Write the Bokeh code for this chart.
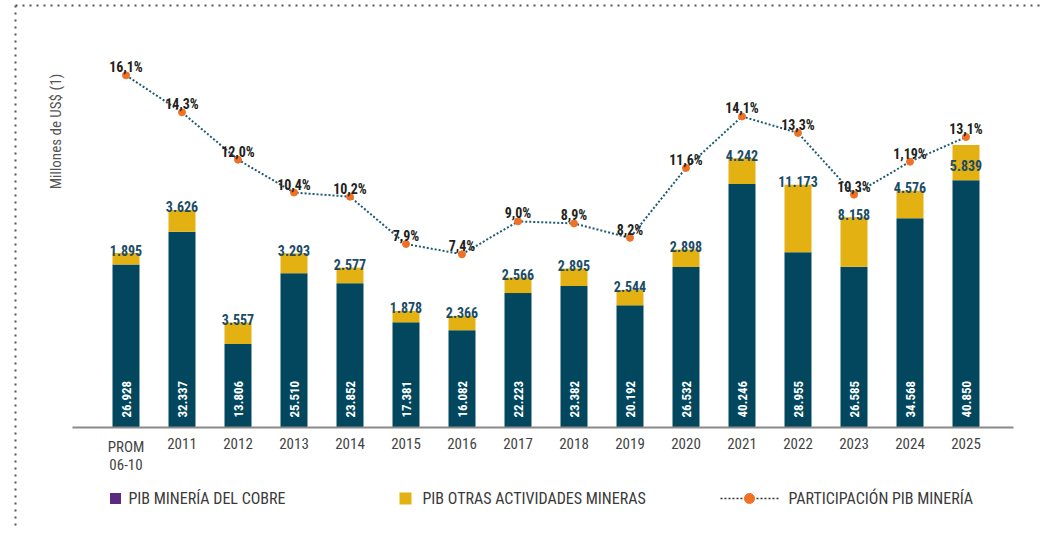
import math
from bokeh.plotting import figure
from bokeh.models import ColumnDataSource, Range1d
from bokeh.core.properties import value
from bokeh.embed import file_html
from bokeh.resources import INLINE

# ---------------- data ----------------
categories = ["PROM\n06-10", "2011", "2012", "2013", "2014", "2015", "2016", "2017",
              "2018", "2019", "2020", "2021", "2022", "2023", "2024", "2025"]
copper = [26928, 32337, 13806, 25510, 23852, 17381, 16082, 22223,
          23382, 20192, 26532, 40246, 28955, 26585, 34568, 40850]
other_mining = [1895, 3626, 3557, 3293, 2577, 1878, 2366, 2566,
                2895, 2544, 2898, 4242, 11173, 8158, 4576, 5839]
share = [16.1, 14.3, 12.0, 10.4, 10.2, 7.9, 7.4, 9.0,
         8.9, 8.2, 11.6, 14.1, 13.3, 10.3, 11.9, 13.1]
share_labels = ["16,1%", "14,3%", "12,0%", "10,4%", "10,2%", "7,9%", "7,4%", "9,0%",
                "8,9%", "8,2%", "11,6%", "14,1%", "13,3%", "10,3%", "1,19%", "13,1%"]
legend_labels = ["PIB MINERÍA DEL COBRE", "PIB OTRAS ACTIVIDADES MINERAS",
                 "PARTICIPACIÓN PIB MINERÍA"]
y_title = "Millones de US$ (1)"

# ---------------- styling ----------------
W, H = 1045, 534
C_COPPER = "#02475e"
C_OTHER = "#e4b112"
C_PURPLE = "#5b2a80"
C_LINE = "#1d5a75"
C_DOT = "#f07124"
C_VAL = "#1b4c66"
C_PCT = "#231f20"
C_TXT = "#444444"
F_COND = value("Roboto Condensed")

# pixel geometry of the layout
X0_PX, STEP_PX = 125.5, 56.0     # centre of first bar, spacing
BASE_PX = 427.0                  # zero line (pixels from top)
PX_PER_UNIT = 0.00605            # bar scale
PCT0_PX, PX_PER_PCT = 406.0, 20.57

x_start = -X0_PX / STEP_PX
x_end = (W - X0_PX) / STEP_PX
y_top = BASE_PX / PX_PER_UNIT
y_bot = -(H - BASE_PX) / PX_PER_UNIT
pct_top = PCT0_PX / PX_PER_PCT
pct_bot = (PCT0_PX - H) / PX_PER_PCT


def px_x(px):
    return x_start + px * (x_end - x_start) / W


def px_y(py):
    return y_top - py * (y_top - y_bot) / H


p = figure(width=W, height=H, output_backend="svg", toolbar_location=None,
           x_range=Range1d(x_start, x_end), y_range=Range1d(y_bot, y_top),
           x_axis_location=None, y_axis_location=None, min_border=0,
           background_fill_color="white", border_fill_color="white")
p.outline_line_color = None
p.grid.visible = False
p.extra_y_ranges = {"pct": Range1d(pct_bot, pct_top)}

n = len(categories)
xs = list(range(n))
totals = [c + o for c, o in zip(copper, other_mining)]
fmt = lambda v: f"{v:,}".replace(",", ".")

src = ColumnDataSource(dict(
    x=xs, copper=copper, other=other_mining, total=totals,
    copper_lbl=[fmt(v) for v in copper], other_lbl=[fmt(v) for v in other_mining],
    share=share, share_lbl=share_labels, cat=categories,
    zero=[0] * n,
))

bar_w = 27 / STEP_PX
p.vbar(x="x", bottom="zero", top="copper", width=bar_w, source=src,
       fill_color=C_COPPER, line_color=None)
p.vbar(x="x", bottom="copper", top="total", width=bar_w, source=src,
       fill_color=C_OTHER, line_color=None)

# baseline
p.segment(x0=[px_x(72)], y0=[0], x1=[px_x(1013)], y1=[0],
          line_color="#8a8a8a", line_width=2)

# white vertical copper labels
p.text(x="x", y="zero", text="copper_lbl", source=src, angle=math.pi / 2,
       text_align="left", text_baseline="middle", y_offset=-10,
       text_color="white", text_font=F_COND, text_font_style="bold",
       text_font_size="13px")

# other-mining labels above the stacks (last one sits inside the yellow block)
inside = {n - 1}
out_idx = [i for i in range(n) if i not in inside]
in_idx = sorted(inside)
src_out = ColumnDataSource(dict(x=[xs[i] for i in out_idx],
                                y=[totals[i] for i in out_idx],
                                t=[fmt(other_mining[i]) for i in out_idx]))
src_in = ColumnDataSource(dict(x=[xs[i] for i in in_idx],
                               y=[totals[i] for i in in_idx],
                               t=[fmt(other_mining[i]) for i in in_idx]))
p.text(x="x", y="y", text="t", source=src_out, text_align="center",
       text_baseline="alphabetic", y_offset=-3, text_color=C_VAL,
       text_font=F_COND, text_font_style="bold", text_font_size="14px")
p.text(x="x", y="y", text="t", source=src_in, text_align="center",
       text_baseline="middle", y_offset=20, text_color=C_VAL,
       text_font=F_COND, text_font_style="bold", text_font_size="14px")

# share line
p.line(x="x", y="share", source=src, y_range_name="pct", line_color=C_LINE,
       line_width=2, line_dash="2 2")
p.scatter(x="x", y="share", source=src, y_range_name="pct", marker="circle",
          size=7, fill_color=C_DOT, line_color=C_DOT)
p.text(x="x", y="share", text="share_lbl", source=src, y_range_name="pct",
       text_align="center", text_baseline="alphabetic", y_offset=-8,
       text_color=C_PCT, text_font=F_COND, text_font_style="bold",
       text_font_size="14px")

# category labels
p.text(x="x", y="zero", text="cat", source=src, text_align="center",
       text_baseline="top", y_offset=10, text_color=C_TXT, text_font=F_COND,
       text_font_size="15px", text_line_height=1.05)

# y title
p.text(x=[px_x(55)], y=[px_y(131)], text=[y_title], angle=math.pi / 2,
       text_align="center", text_baseline="middle", text_color="#555555",
       text_font=F_COND, text_font_size="15px")

# dotted frame (top and left)
p.segment(x0=[px_x(15), px_x(15)], y0=[px_y(5), px_y(5)],
          x1=[px_x(1040), px_x(15)], y1=[px_y(5), px_y(528)],
          line_color="#555555", line_width=2, line_dash="2 5")

# legend
ly = px_y(498)
p.scatter(x=[px_x(115)], y=[ly], marker="square", size=11,
          fill_color=C_PURPLE, line_color=None)
p.scatter(x=[px_x(405)], y=[ly], marker="square", size=12,
          fill_color=C_OTHER, line_color=None)
p.segment(x0=[px_x(720)], y0=[ly], x1=[px_x(780)], y1=[ly],
          line_color="#333333", line_width=1.5, line_dash="2 2")
p.scatter(x=[px_x(749)], y=[ly], marker="circle", size=10,
          fill_color=C_DOT, line_color=C_DOT)
p.text(x=[px_x(128), px_x(422), px_x(788)], y=[ly] * 3, text=legend_labels,
       text_align="left", text_baseline="middle", text_color="#3a3a3a",
       text_font=F_COND, text_font_size="16px")

open("out.html", "w").write(file_html(p, INLINE))
